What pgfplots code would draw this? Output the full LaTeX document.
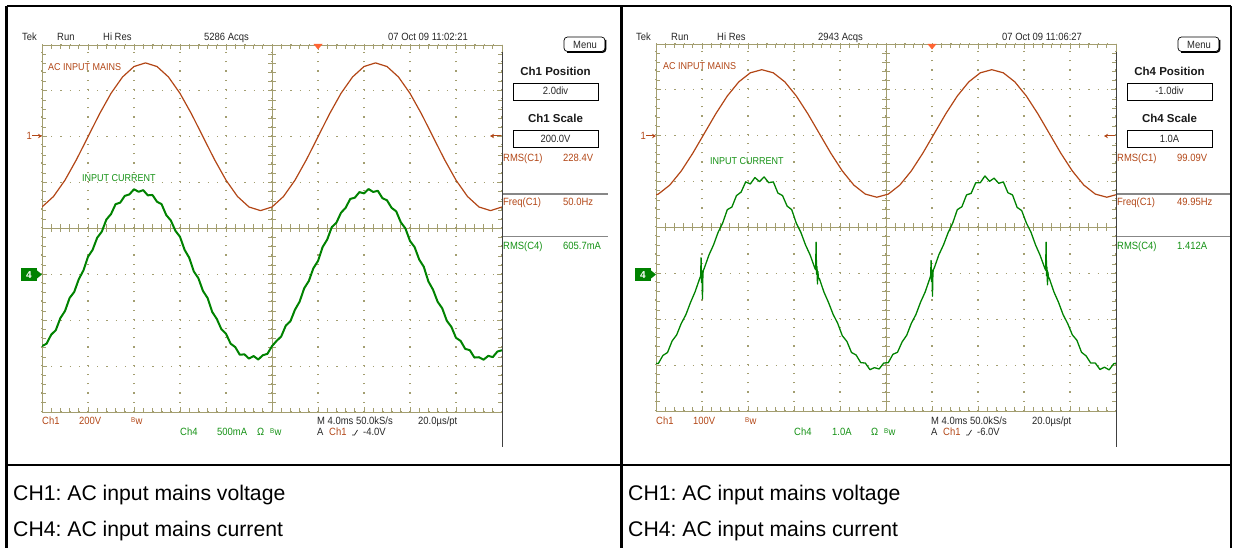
\documentclass[border=0pt]{standalone}
\usepackage{pgfplots}
\pgfplotsset{compat=1.18}
\usetikzlibrary{arrows.meta}
\usepackage{fontspec}
\setmainfont{Liberation Sans}
\newfontfamily\scp[FakeStretch=0.9]{Liberation Sans}
\frenchspacing

\definecolor{grat}{RGB}{163,158,112}
\definecolor{chA}{RGB}{178,70,22}
\definecolor{chB}{RGB}{0,130,0}
\definecolor{txtB}{RGB}{20,145,20}
\definecolor{trig}{RGB}{255,100,50}
\definecolor{sepl}{RGB}{135,135,135}

\pgfplotsset{scopeaxis/.style={
  scale only axis, width=460bp, height=367bp,
  xmin=0, xmax=10, ymin=-4, ymax=4,
  xtick={0,...,10}, ytick={-4,...,4},
  xticklabels={}, yticklabels={},
  minor x tick num=4, minor y tick num=4,
  tick align=inside, major tick length=5bp, minor tick length=4bp,
  tick style={grat, line width=0.8bp},
  axis line style={grat, line width=1bp},
  xmajorgrids, ymajorgrids,
  major grid style={grat, line width=1.2bp, dash pattern=on 1.2bp off 8bp},
  clip=true,
}}

\tikzset{
  st/.style={anchor=base west, inner sep=0pt, font={\scp\fontsize{10.5bp}{12bp}\selectfont}, text=black!85},
  sc/.style={anchor=base, inner sep=0pt, font={\scp\fontsize{10.5bp}{12bp}\selectfont}, text=black!85},
  sb/.style={anchor=base, inner sep=0pt, font={\bfseries\fontsize{11.5bp}{13bp}\selectfont}, text=black!90},
  lab/.style={anchor=base west, inner sep=0pt, font={\scp\fontsize{10bp}{12bp}\selectfont}},
  capt/.style={anchor=base west, inner sep=0pt, font={\fontsize{21.2bp}{25bp}\selectfont}},
}

\newcommand\Bw{\raisebox{1.8bp}{\fontsize{7bp}{8bp}\selectfont B}\kern0.3bp w}

% graticule centre cross with its small ticks (x0 = left px, y0 = top px)
\newcommand\centerlines[2]{%
  \draw[grat, line width=1bp] ({#1},{#2+183.5}) -- ({#1+460},{#2+183.5});
  \draw[grat, line width=1bp] ({#1+230},{#2}) -- ({#1+230},{#2+367});
  \foreach \i in {1,...,49} \draw[grat, line width=0.8bp] ({#1+9.2*\i},{#2+179.5}) -- ++(0,8);
  \foreach \j in {1,...,39} \draw[grat, line width=0.8bp] ({#1+226},{#2+9.175*\j}) -- ++(8,0);
}

% things both scope screens share, in left-panel pixel coordinates
\newcommand\panelcommon{%
  \node[st] at (22,40.7) {Tek};
  \node[st] at (57,40.7) {Run};
  \node[st] at (103,40.7) {Hi Res};
  \draw[line width=0.7bp, rounded corners=3.5bp] (564,37) rectangle (605,51.5);
  \draw[line width=1.4bp, rounded corners=3bp] (567,52.2) -- (605.6,52.2) -- (605.6,40);
  \node[sc] at (585,48.3) {Menu};
  \draw[line width=0.9bp] (513,83) rectangle (598,100);
  \draw[line width=0.9bp] (513,130.5) rectangle (598,147);
  \draw[black!75, line width=1.6bp] (502.5,52) -- (502.5,447);
  \fill[trig] (313.5,44) -- (322.5,44) -- (318,49.5) -- cycle;
  \node[st, text=chA] at (26.5,140) {1};
  \draw[chA, line width=1bp, -{Stealth[length=4bp,width=4.5bp]}] (32,136) -- (42,136);
  \draw[chA, line width=1bp, -{Stealth[length=4bp,width=4.5bp]}] (501,136) -- (490,136);
  \fill[chB] (21,268) rectangle (37,281);
  \fill[chB] (37,270.5) -- (42,274.5) -- (37,278.5) -- cycle;
  \node[sc, text=white, font={\bfseries\fontsize{10bp}{12bp}\selectfont}] at (29,278.3) {4};
  \node[st, text=chA] at (42,424) {Ch1};
  \node[st, text=chA] at (131,424) {\Bw};
  \node[st, text=txtB] at (180,435.5) {Ch4};
  \node[st, text=txtB] at (257,435.5) {Ω};
  \node[st, text=txtB] at (270,435.5) {\Bw};
  \node[st] at (317,424) {M 4.0ms 50.0kS/s};
  \node[st] at (418,424) {20.0µs/pt};
  \node[st] at (317,435.5) {A};
  \node[st, text=chA] at (329,435.5) {Ch1};
  \draw[black!85, line width=0.7bp] (352,435) -- (354.5,435) -- (357.5,430);
}

\begin{document}
\begin{tikzpicture}
\begin{scope}[x=1bp, y=-1bp]
  \useasboundingbox (0,0) rectangle (1233,542);
  \centerlines{42}{45}
  \centerlines{656}{44}
\end{scope}

% left screen: 200 V/div, 500 mA/div
\begin{axis}[scopeaxis, at={(42bp,-412bp)}, anchor=south west]
\addplot[chA, line width=1.2bp] coordinates {
(0,0.469) (0.25,0.698) (0.5,1.054) (0.75,1.503) (1,2.0) (1.25,2.497) (1.5,2.946) (1.75,3.302)
(2,3.531) (2.25,3.61) (2.5,3.531) (2.75,3.302) (3,2.946) (3.25,2.497) (3.5,2.0) (3.75,1.503)
(4,1.054) (4.25,0.698) (4.5,0.469) (4.75,0.39) (5,0.469) (5.25,0.698) (5.5,1.054) (5.75,1.503)
(6,2.0) (6.25,2.497) (6.5,2.946) (6.75,3.302) (7,3.531) (7.25,3.61) (7.5,3.531) (7.75,3.302)
(8,2.946) (8.25,2.497) (8.5,2.0) (8.75,1.503) (9,1.054) (9.25,0.698) (9.5,0.469) (9.75,0.39) (10,0.469)
};
\addplot[chB, line width=2bp, line join=round] coordinates {
(0,-2.564) (0.1,-2.510) (0.2,-2.314) (0.3,-2.216) (0.4,-1.951) (0.5,-1.799) (0.6,-1.515) (0.7,-1.383) (0.8,-1.105) (0.9,-0.915)
(1.0,-0.617) (1.1,-0.465) (1.2,-0.201) (1.3,-0.069) (1.4,0.196) (1.5,0.314) (1.6,0.530) (1.7,0.564) (1.8,0.712) (1.9,0.743)
(2.0,0.856) (2.1,0.800) (2.2,0.836) (2.3,0.723) (2.4,0.732) (2.5,0.584) (2.6,0.530) (2.7,0.294) (2.8,0.176) (2.9,-0.049)
(3.0,-0.181) (3.1,-0.465) (3.2,-0.637) (3.3,-0.935) (3.4,-1.085) (3.5,-1.363) (3.6,-1.515) (3.7,-1.819) (3.8,-1.971) (3.9,-2.196)
(4.0,-2.294) (4.1,-2.510) (4.2,-2.584) (4.3,-2.752) (4.4,-2.743) (4.5,-2.836) (4.6,-2.780) (4.7,-2.856) (4.8,-2.763) (4.9,-2.732)
(5.0,-2.564) (5.1,-2.450) (5.2,-2.354) (5.3,-2.116) (5.4,-2.021) (5.5,-1.769) (5.6,-1.595) (5.7,-1.303) (5.8,-1.145) (5.9,-0.865)
(6.0,-0.707) (6.1,-0.405) (6.2,-0.241) (6.3,0.031) (6.4,0.126) (6.5,0.344) (6.6,0.450) (6.7,0.644) (6.8,0.672) (6.9,0.793)
(7.0,0.766) (7.1,0.860) (7.2,0.796) (7.3,0.823) (7.4,0.662) (7.5,0.614) (7.6,0.450) (7.7,0.374) (7.8,0.136) (7.9,0.001)
(8.0,-0.271) (8.1,-0.405) (8.2,-0.677) (8.3,-0.835) (8.4,-1.155) (8.5,-1.333) (8.6,-1.595) (8.7,-1.739) (8.8,-2.011) (8.9,-2.146)
(9.0,-2.384) (9.1,-2.450) (9.2,-2.624) (9.3,-2.652) (9.4,-2.813) (9.5,-2.806) (9.6,-2.860) (9.7,-2.776) (9.8,-2.803) (9.9,-2.682) (10.0,-2.654)
};
\end{axis}

% right screen: 100 V/div, 1 A/div
\begin{axis}[scopeaxis, at={(656bp,-411bp)}, anchor=south west]
\addplot[chA, line width=1.2bp] coordinates {
(-0.2,0.66) (0.05,0.728) (0.3,0.925) (0.55,1.233) (0.8,1.620) (1.05,2.05) (1.3,2.480) (1.55,2.867)
(1.8,3.175) (2.05,3.372) (2.3,3.44) (2.55,3.372) (2.8,3.175) (3.05,2.867) (3.3,2.480) (3.55,2.05)
(3.8,1.620) (4.05,1.233) (4.3,0.925) (4.55,0.728) (4.8,0.66) (5.05,0.728) (5.3,0.925) (5.55,1.233)
(5.8,1.620) (6.05,2.05) (6.3,2.480) (6.55,2.867) (6.8,3.175) (7.05,3.372) (7.3,3.44) (7.55,3.372)
(7.8,3.175) (8.05,2.867) (8.3,2.480) (8.55,2.05) (8.8,1.620) (9.05,1.233) (9.3,0.925) (9.55,0.728)
(9.8,0.66) (10.05,0.728)
};
\addplot[chB, line width=1.3bp, line join=round] coordinates {
(-0.05,-2.955) (0.05,-2.965) (0.15,-2.789) (0.25,-2.725) (0.35,-2.474) (0.45,-2.339) (0.55,-2.089) (0.65,-1.899) (0.75,-1.634) (0.85,-1.400) (0.95,-1.110)
(0.97,-1.06) (0.98,-0.66) (0.99,-1.20) (1.00,-0.95) (1.01,-1.56) (1.02,-1.00) (1.03,-0.93)
(1.05,-0.886) (1.15,-0.602) (1.25,-0.380) (1.35,-0.105) (1.45,0.101) (1.55,0.389) (1.65,0.446) (1.75,0.696) (1.85,0.772) (1.95,0.995)
(2.05,0.949) (2.15,1.089) (2.25,1.000) (2.35,1.103) (2.45,0.977) (2.55,0.995) (2.65,0.751) (2.75,0.696) (2.85,0.467) (2.95,0.389)
(3.05,0.093) (3.15,-0.109) (3.25,-0.380) (3.35,-0.598) (3.45,-0.878)
(3.47,-0.92) (3.48,-0.32) (3.49,-1.02) (3.50,-0.85) (3.51,-1.23) (3.52,-0.96) (3.53,-1.10)
(3.55,-1.110) (3.65,-1.406) (3.75,-1.634) (3.85,-1.893) (3.95,-2.089) (4.05,-2.359) (4.15,-2.484) (4.25,-2.725) (4.35,-2.779) (4.45,-2.945)
(4.55,-2.955) (4.65,-3.099) (4.75,-3.055) (4.85,-3.084) (4.95,-2.955)
(5.05,-2.945) (5.15,-2.764) (5.25,-2.720) (5.35,-2.494) (5.45,-2.349) (5.55,-2.089) (5.65,-1.897) (5.75,-1.630) (5.85,-1.408) (5.95,-1.116)
(5.97,-1.05) (5.98,-0.72) (5.99,-1.18) (6.00,-0.93) (6.01,-1.50) (6.02,-0.98) (6.03,-0.92)
(6.05,-0.878) (6.15,-0.592) (6.25,-0.378) (6.35,-0.113) (6.45,0.097) (6.55,0.389) (6.65,0.453) (6.75,0.710) (6.85,0.744) (6.95,0.974)
(7.05,0.977) (7.15,1.124) (7.25,1.007) (7.35,1.075) (7.45,0.963) (7.55,0.995) (7.65,0.758) (7.75,0.710) (7.85,0.439) (7.95,0.368)
(8.05,0.101) (8.15,-0.099) (8.25,-0.378) (8.35,-0.606) (8.45,-0.882)
(8.47,-0.93) (8.48,-0.32) (8.49,-1.05) (8.50,-0.86) (8.51,-1.25) (8.52,-0.97) (8.53,-1.08)
(8.55,-1.110) (8.65,-1.404) (8.75,-1.630) (8.85,-1.901) (8.95,-2.095) (9.05,-2.339) (9.15,-2.459) (9.25,-2.720) (9.35,-2.799) (9.45,-2.955)
(9.55,-2.955) (9.65,-3.094) (9.75,-3.045) (9.85,-3.104) (9.95,-2.970) (10.05,-2.945)
};
\end{axis}

\begin{scope}[x=1bp, y=-1bp]
  % left screen texts
  \panelcommon
  \node[st] at (204,40.7) {5286 Acqs};
  \node[st] at (388,40.7) {07 Oct 09 11:02:21};
  \node[sb] at (555.5,76) {Ch1 Position};
  \node[sc] at (555.5,94.5) {2.0div};
  \node[sb] at (555.5,123) {Ch1 Scale};
  \node[sc] at (555.5,142.5) {200.0V};
  \node[st, text=chA] at (503,161.5) {RMS(C1)};
  \node[st, text=chA] at (563,161.5) {228.4V};
  \draw[sepl, line width=1.2bp] (503,194) -- (608,194);
  \node[st, text=chA] at (503,205.5) {Freq(C1)};
  \node[st, text=chA] at (563,205.5) {50.0Hz};
  \draw[sepl, line width=1.2bp] (503,236.7) -- (608,236.7);
  \node[st, text=txtB] at (503,249.5) {RMS(C4)};
  \node[st, text=txtB] at (563,249.5) {605.7mA};
  \node[st, text=chA] at (79,424) {200V};
  \node[st, text=txtB] at (217,435.5) {500mA};
  \node[st] at (363,435.5) {-4.0V};
  \node[lab, text=chA] at (48,71) {AC INPUT MAINS};
  \node[lab, text=txtB] at (82,182) {INPUT CURRENT};
  \begin{scope}[xshift=614bp]
    % right screen texts
    \panelcommon
    \node[st] at (204,40.7) {2943 Acqs};
    \node[st] at (388,40.7) {07 Oct 09 11:06:27};
    \node[sb] at (555.5,76) {Ch4 Position};
    \node[sc] at (555.5,94.5) {-1.0div};
    \node[sb] at (555.5,123) {Ch4 Scale};
    \node[sc] at (555.5,142.5) {1.0A};
    \node[st, text=chA] at (503,161.5) {RMS(C1)};
    \node[st, text=chA] at (563,161.5) {99.09V};
    \draw[sepl, line width=1.2bp] (503,194) -- (618,194);
    \node[st, text=chA] at (503,205.5) {Freq(C1)};
    \node[st, text=chA] at (563,205.5) {49.95Hz};
    \draw[sepl, line width=1.2bp] (503,236.7) -- (618,236.7);
    \node[st, text=txtB] at (503,249.5) {RMS(C4)};
    \node[st, text=txtB] at (563,249.5) {1.412A};
    \node[st, text=chA] at (79,424) {100V};
    \node[st, text=txtB] at (218,435.5) {1.0A};
    \node[st] at (363,435.5) {-6.0V};
    \node[lab, text=chA] at (49,70) {AC INPUT MAINS};
    \node[lab, text=txtB] at (96,165) {INPUT CURRENT};
  \end{scope}
  % table frame and captions
  \draw[line width=2.5bp] (6.5,6) -- (1231,6);
  \draw[line width=2.5bp] (6.5,6) -- (6.5,548);
  \draw[line width=2.5bp] (621.5,6) -- (621.5,548);
  \draw[line width=2.5bp] (1231,6) -- (1231,548);
  \draw[line width=2.5bp] (6.5,465) -- (1231,465);
  \node[capt] at (13,500) {CH1: AC input mains voltage};
  \node[capt] at (13,536) {CH4: AC input mains current};
  \node[capt] at (628,500) {CH1: AC input mains voltage};
  \node[capt] at (628,536) {CH4: AC input mains current};
\end{scope}
\end{tikzpicture}
\end{document}
